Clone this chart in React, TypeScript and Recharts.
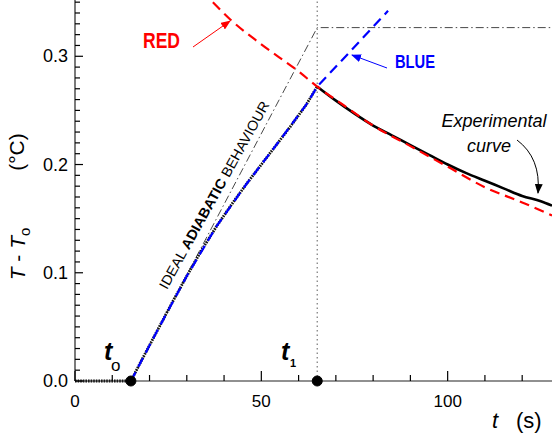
import React from "react";
import { LineChart, Line, XAxis, YAxis, ReferenceLine, ReferenceDot } from "recharts";

const FONT = "'Liberation Sans', Arial, Helvetica, sans-serif";

// experimental curve: flat baseline then heating ramp up to t1
const riseT = [0, 5, 10, 15, 18, 22, 26, 30, 34, 38, 42, 46, 50, 54, 58, 62, 65];
const riseV = [0, 0, 0, 0, 0.02, 0.046, 0.072, 0.097, 0.121, 0.143, 0.163, 0.182, 0.2, 0.218, 0.236, 0.255, 0.272];

// experimental curve after t1 (cooling)
const decayT = [65, 70, 75, 80, 85, 90, 95, 100, 105, 110, 115, 120, 125, 128];
const decayV = [0.272, 0.259, 0.247, 0.236, 0.227, 0.218, 0.209, 0.2, 0.192, 0.185, 0.178, 0.171, 0.166, 0.162];

// RED fit (cooling, extrapolated back)
const redT = [37, 42, 50, 60, 65, 72, 80, 90, 100, 110, 120, 128];
const redV = [0.35, 0.333, 0.311, 0.286, 0.272, 0.255, 0.236, 0.217, 0.198, 0.179, 0.165, 0.153];

// BLUE fit (heating, extrapolated forward)
const blueT = [15, 22, 30, 38, 46, 54, 62, 65, 74, 84];
const blueV = [0, 0.046, 0.097, 0.143, 0.182, 0.218, 0.255, 0.272, 0.305, 0.342];

// ideal adiabatic behaviour
const idealT = [15, 65, 128];
const idealV = [0, 0.3265, 0.3265];

const t0 = 15;
const t1 = 65;

const xTicks = [0, 10, 20, 30, 40, 50, 60, 70, 80, 90, 100, 110, 120];
const xLabels = [0, 50, 100];
const yTicks = Array.from({ length: 36 }, (_, i) => i / 100);
const yLabels = ["0.0", "0.1", "0.2", "0.3"];

const rows = (ts: number[], vs: number[]) => ts.map((t, i) => ({ t, v: vs[i] }));

const BottomTick = (props: any) => {
  const { x, y, payload } = props;
  const v = payload.value;
  const major = xLabels.includes(v);
  return (
    <g>
      <line x1={x} y1={y} x2={x} y2={y - (major ? 10 : 6)} stroke="#000" strokeWidth={1.2} />
      {major && (
        <text x={x} y={y + 26} textAnchor="middle" fontSize={17} fontFamily={FONT} fill="#000">
          {v}
        </text>
      )}
    </g>
  );
};

const TopTick = (props: any) => {
  const { x, y, payload } = props;
  const major = xLabels.includes(payload.value);
  return (
    <g>
      <line x1={x} y1={y} x2={x} y2={y + (major ? 10 : 7)} stroke="#222" strokeWidth={1.2} />
    </g>
  );
};

const LeftTick = (props: any) => {
  const { x, y, payload } = props;
  const k = Math.round(payload.value * 100);
  const major = k % 10 === 0;
  return (
    <g>
      <line x1={x} y1={y} x2={x + (major ? 8 : 5)} y2={y} stroke="#000" strokeWidth={1.2} />
      {major && (
        <text x={x - 7} y={y + 6} textAnchor="end" fontSize={18} fontFamily={FONT} fill="#000">
          {yLabels[k / 10]}
        </text>
      )}
    </g>
  );
};

export default function App() {
  return (
    <div style={{ position: "relative", width: 552, height: 438, background: "#fff" }}>
      <style>{"body{margin:0}"}</style>
      <LineChart width={552} height={438} margin={{ top: 0, right: 0, left: 0, bottom: 0 }}>
        <XAxis
          dataKey="t"
          type="number"
          domain={[0, 128]}
          ticks={xTicks}
          interval={0}
          height={57}
          tickSize={0}
          tickMargin={0}
          tick={<BottomTick />}
          axisLine={{ stroke: "#222", strokeWidth: 1.2 }}
          tickLine={false}
        />
        <XAxis
          xAxisId="top"
          orientation="top"
          dataKey="t"
          type="number"
          domain={[0, 128]}
          ticks={xTicks}
          interval={0}
          height={0}
          tickSize={0}
          tickMargin={0}
          tick={<TopTick />}
          axisLine={{ stroke: "#666", strokeWidth: 1.5 }}
          tickLine={false}
        />
        <YAxis
          type="number"
          domain={[0, 0.352]}
          ticks={yTicks}
          interval={0}
          width={75}
          tickSize={0}
          tickMargin={0}
          tick={<LeftTick />}
          axisLine={{ stroke: "#222", strokeWidth: 1.2 }}
          tickLine={false}
        />
        <ReferenceLine x={t1} stroke="#777" strokeDasharray="1.5 3" strokeWidth={1.2} />
        <Line
          data={rows(idealT, idealV)}
          dataKey="v"
          type="linear"
          stroke="#333"
          strokeWidth={0.9}
          strokeDasharray="8 3 1.5 3"
          dot={false}
          isAnimationActive={false}
        />
        <Line
          data={rows(riseT, riseV)}
          dataKey="v"
          type="linear"
          stroke="#111"
          strokeWidth={2.8}
          strokeDasharray="1.6 1"
          dot={false}
          isAnimationActive={false}
        />
        <Line
          data={rows(decayT, decayV)}
          dataKey="v"
          type="monotone"
          stroke="#000"
          strokeWidth={2.6}
          dot={false}
          isAnimationActive={false}
        />
        <Line
          data={rows(redT, redV)}
          dataKey="v"
          type="monotone"
          stroke="#ff0000"
          strokeWidth={2.2}
          strokeDasharray="10 6"
          dot={false}
          isAnimationActive={false}
        />
        <Line
          data={rows(blueT, blueV)}
          dataKey="v"
          type="linear"
          stroke="#0000ff"
          strokeWidth={2.2}
          strokeDasharray="10 6"
          dot={false}
          isAnimationActive={false}
        />
        <ReferenceDot x={t0} y={0} r={5} fill="#000" stroke="#000" />
        <ReferenceDot x={t1} y={0} r={5} fill="#000" stroke="#000" />
      </LineChart>

      <svg
        width={552}
        height={438}
        style={{ position: "absolute", left: 0, top: 0, pointerEvents: "none" }}
        fontFamily={FONT}
      >
        <defs>
          <marker id="hRed" markerUnits="userSpaceOnUse" markerWidth={10} markerHeight={8} refX={9} refY={4} orient="auto">
            <path d="M0,0 L10,4 L0,8 z" fill="#ff0000" />
          </marker>
          <marker id="hBlue" markerUnits="userSpaceOnUse" markerWidth={10} markerHeight={8} refX={9} refY={4} orient="auto">
            <path d="M0,0 L10,4 L0,8 z" fill="#0000ff" />
          </marker>
          <marker id="hBlack" markerUnits="userSpaceOnUse" markerWidth={10} markerHeight={8} refX={9} refY={4} orient="auto">
            <path d="M0,0 L10,4 L0,8 z" fill="#000" />
          </marker>
        </defs>

        <text x={143} y={48} fontSize={22} fontWeight="bold" fill="#ff0000" textLength={37} lengthAdjust="spacingAndGlyphs">
          RED
        </text>
        <line x1={193} y1={47} x2={230} y2={21} stroke="#ff0000" strokeWidth={1} markerEnd="url(#hRed)" />

        <text x={395} y={68} fontSize={18} fontWeight="bold" fill="#0000ff" textLength={40} lengthAdjust="spacingAndGlyphs">
          BLUE
        </text>
        <line x1={387} y1={68} x2={352} y2={55} stroke="#0000ff" strokeWidth={1} markerEnd="url(#hBlue)" />

        <text x={494} y={127} fontSize={18} fontStyle="italic" textAnchor="middle" fill="#000">
          Experimental
        </text>
        <text x={489} y={152} fontSize={18} fontStyle="italic" textAnchor="middle" fill="#000">
          curve
        </text>
        <path d="M517,140 Q541,158 538,193" fill="none" stroke="#000" strokeWidth={1} markerEnd="url(#hBlack)" />

        <text transform="translate(214,195) rotate(-61)" y={5} fontSize={14} textAnchor="middle" fill="#000" textLength={212} lengthAdjust="spacingAndGlyphs">
          IDEAL <tspan fontWeight="bold">ADIABATIC</tspan> BEHAVIOUR
        </text>

        <text x={104} y={360} fontSize={25} fontStyle="italic" fontWeight="bold" fill="#000">
          t
        </text>
        <text x={111} y={371} fontSize={17} fill="#000">
          o
        </text>
        <text x={281} y={360} fontSize={25} fontStyle="italic" fontWeight="bold" fill="#000">
          t
        </text>
        <text x={290} y={367} fontSize={11} fontWeight="bold" fill="#000">
          1
        </text>

        <text transform="translate(25,254) rotate(-90)" textAnchor="middle" fontSize={21} fill="#000">
          <tspan fontStyle="italic">T</tspan>
          <tspan> - </tspan>
          <tspan fontStyle="italic">T</tspan>
          <tspan fontSize={15} dy={5}>o</tspan>
        </text>
        <text transform="translate(24,152) rotate(-90)" textAnchor="middle" fontSize={21} fill="#000">
          (°C)
        </text>

        <text x={492} y={428} fontSize={22} fontStyle="italic" fill="#000">
          t
        </text>
        <text x={516} y={428} fontSize={22} fill="#000">
          (s)
        </text>
      </svg>
    </div>
  );
}
